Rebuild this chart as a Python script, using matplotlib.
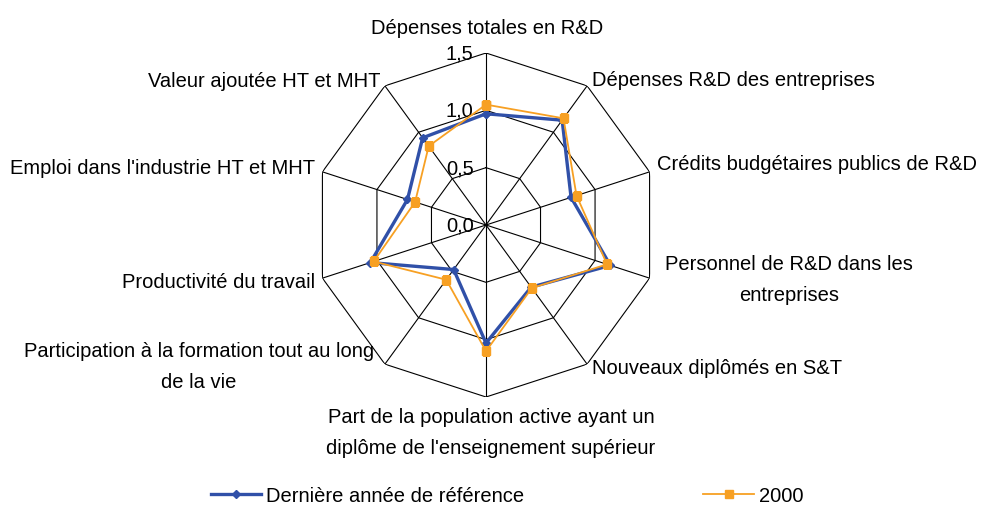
import numpy as np
import matplotlib
matplotlib.use("Agg")
import matplotlib.pyplot as plt

plt.rcParams['font.family'] = ['Liberation Sans', 'DejaVu Sans']

categories = [
    "Dépenses totales en R&D",
    "Dépenses R&D des entreprises",
    "Crédits budgétaires publics de R&D",
    "Personnel de R&D dans les\nentreprises",
    "Nouveaux diplômés en S&T",
    "Part de la population active ayant un\ndiplôme de l'enseignement supérieur",
    "Participation à la formation tout au long\nde la vie",
    "Productivité du travail",
    "Emploi dans l'industrie HT et MHT",
    "Valeur ajoutée HT et MHT",
]
derniere = [0.97, 1.13, 0.78, 1.14, 0.67, 1.03, 0.48, 1.06, 0.72, 0.94]
an2000 = [1.05, 1.15, 0.83, 1.11, 0.68, 1.10, 0.59, 1.03, 0.65, 0.85]
ticks = [0.0, 0.5, 1.0, 1.5]
tick_labels = ["0,0", "0,5", "1,0", "1,5"]
series_names = ["Dernière année de référence", "2000"]

FS = 14.5
W, H = 990, 506
fig = plt.figure(figsize=(W / 100, H / 100), dpi=100)
cx, cy, R = 486, 226, 172
ax = fig.add_axes([(cx - R) / W, (H - cy - R) / H, 2 * R / W, 2 * R / H], projection='polar')
ax.set_theta_zero_location('N')
ax.set_theta_direction(-1)
ax.set_ylim(0, 1.5)
ax.axis('off')

n = len(categories)
theta = np.arange(n) * 2 * np.pi / n
theta_c = np.append(theta, theta[0])

# grid decagons
for t in ticks:
    ax.plot(theta_c, [t] * (n + 1), color='black', lw=0.8, zorder=1)
for th in theta:
    ax.plot([th, th], [0, 1.5], color='black', lw=0.8, zorder=1)

# tick labels
for t, lab in zip(ticks, tick_labels):
    ax.annotate(lab, xy=(0, t), xytext=(-9, 0), textcoords='offset points',
                ha='right', va='center', fontsize=FS)

blue = '#3050A8'
orange = '#F7A023'
ax.plot(theta_c, derniere + [derniere[0]], color=blue, lw=2.4, marker='D', ms=4.5,
        zorder=3, label=series_names[0])
ax.plot(theta_c, an2000 + [an2000[0]], color=orange, lw=1.3, marker='s', ms=5.5,
        zorder=4, label=series_names[1])

# category labels (pixel positions in figure)
label_pos = [
    (487, 28, 'center'),
    (592, 80, 'left'),
    (657, 165, 'left'),
    (789, 280, 'center'),
    (592, 368, 'left'),
    (491, 433, 'center'),
    (199, 367, 'center'),
    (315, 282, 'right'),
    (315, 168, 'right'),
    (380, 82, 'right'),
]
for lab, (x, y, ha) in zip(categories, label_pos):
    fig.text(x / W, 1 - y / H, lab, ha=ha, va='center', fontsize=FS,
             multialignment='center', linespacing=1.75)

h, l = ax.get_legend_handles_labels()
fig.legend(h, l, loc='center', bbox_to_anchor=(507 / W, 1 - 497 / H), ncol=2,
           frameon=False, fontsize=FS, handlelength=2.5, handletextpad=0.25,
           columnspacing=8.9, borderpad=0)

fig.savefig('out.png', dpi=100)
